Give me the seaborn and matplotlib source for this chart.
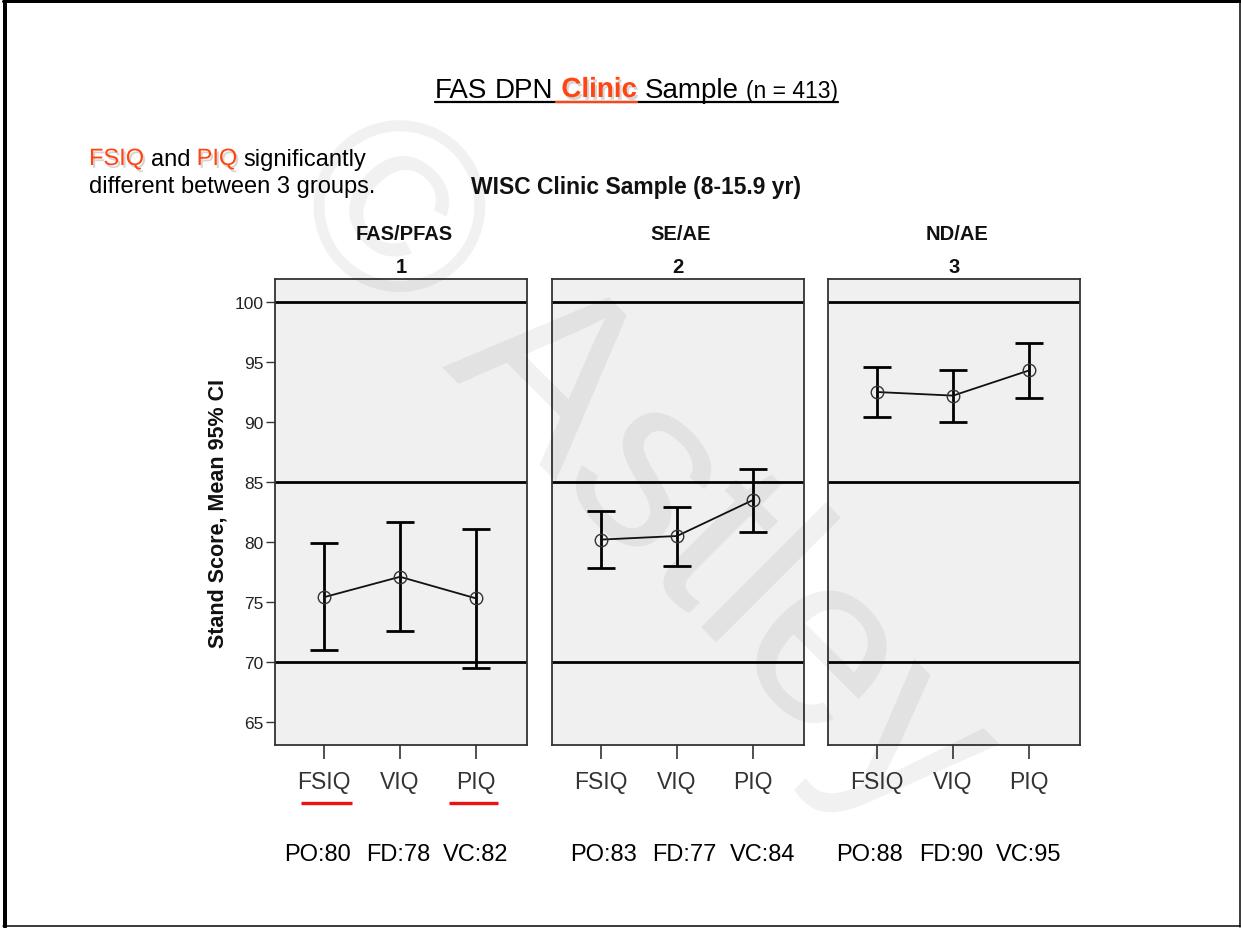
import matplotlib
matplotlib.use("Agg")
import matplotlib.pyplot as plt
import matplotlib.patheffects as pe
from matplotlib.lines import Line2D
import numpy as np
import pandas as pd
import seaborn as sns

# ---- data -------------------------------------------------------------
measures = ["FSIQ", "VIQ", "PIQ"]
group_names = ["FAS/PFAS", "SE/AE", "ND/AE"]
group_ids = ["1", "2", "3"]

fas_mean = [75.4, 77.1, 75.3]
fas_lo = [71.0, 72.6, 69.5]
fas_hi = [79.9, 81.7, 81.1]

se_mean = [80.2, 80.5, 83.5]
se_lo = [77.8, 78.0, 80.8]
se_hi = [82.6, 82.9, 86.1]

nd_mean = [92.5, 92.2, 94.3]
nd_lo = [90.4, 90.0, 92.0]
nd_hi = [94.6, 94.3, 96.6]

po_scores = [80, 83, 88]
fd_scores = [78, 77, 90]
vc_scores = [82, 84, 95]

ref_lines = [70, 85, 100]
y_ticks = [65, 70, 75, 80, 85, 90, 95, 100]

rows = []
for g, m, lo, hi in zip(group_names,
                        [fas_mean, se_mean, nd_mean],
                        [fas_lo, se_lo, nd_lo],
                        [fas_hi, se_hi, nd_hi]):
    for i, meas in enumerate(measures):
        rows.append(dict(group=g, measure=meas, pos=i,
                         mean=m[i], lo=lo[i], hi=hi[i]))
df = pd.DataFrame(rows)

# ---- style ------------------------------------------------------------
sns.set_theme(style="white")
plt.rcParams["font.family"] = ["Liberation Sans", "DejaVu Sans"]

W, H = 1241, 929
fig = plt.figure(figsize=(W / 100, H / 100), dpi=100)
fig.patch.set_facecolor("white")


def fx(px):
    return px / W


def fy(py):
    return 1 - py / H


# ---- panels -----------------------------------------------------------
panel_left = [275, 552, 828]
panel_w = 252
panel_top, panel_bot = 280, 746
ORANGE = "#ff4512"

axes = []
for k, g in enumerate(group_names):
    ax = fig.add_axes([fx(panel_left[k]), fy(panel_bot),
                       fx(panel_w), (panel_bot - panel_top) / H])
    axes.append(ax)
    ax.set_facecolor("#f0f0f0")
    sub = df[df["group"] == g]

    for v in ref_lines:
        ax.axhline(v, color="black", lw=2.0, zorder=2)

    ax.errorbar(sub["pos"], sub["mean"],
                yerr=[sub["mean"] - sub["lo"], sub["hi"] - sub["mean"]],
                fmt="none", ecolor="black", elinewidth=2.0,
                capsize=10, capthick=2.0, zorder=3)
    sns.lineplot(data=sub, x="pos", y="mean", ax=ax, color="#111111",
                 lw=1.3, marker="o", markersize=9,
                 markerfacecolor="none", markeredgecolor="#333333",
                 markeredgewidth=1.0, zorder=4, legend=False)

    ax.set_xlim(-0.645, 2.67)
    ax.set_ylim(63.08, 101.92)
    ax.set_xticks(range(len(measures)))
    ax.set_xticklabels(measures, fontsize=16.5, color="#333333")
    ax.tick_params(axis="x", length=10, width=1.2, color="#333333",
                   pad=8, bottom=True)
    if k == 0:
        ax.set_yticks(y_ticks)
        ax.set_yticklabels([str(t) for t in y_ticks], fontsize=12.5,
                           color="#222222")
        ax.tick_params(axis="y", length=6.5, width=1.0, color="#333333",
                       pad=2, left=True)
    else:
        ax.set_yticks(y_ticks)
        ax.tick_params(axis="y", left=False, labelleft=False)
    ax.set_xlabel("")
    ax.set_ylabel("")
    for s in ax.spines.values():
        s.set_visible(True)
        s.set_color("#333333")
        s.set_linewidth(1.3)

    cx = panel_left[k] + panel_w / 2
    fig.text(fx(cx + 3), fy(240), g, ha="center", va="baseline",
             fontsize=14.5, fontweight="bold", color="#111111")
    fig.text(fx(cx), fy(273), group_ids[k], ha="center", va="baseline",
             fontsize=14.5, fontweight="bold", color="#111111")

axes[0].set_ylabel("Stand Score, Mean 95% CI", fontsize=15.5,
                   fontweight="bold", color="#111111", labelpad=4)

# index scores under each panel
idx_centers = [[317, 398, 476], [604, 684, 763], [870, 951, 1029]]
for k in range(3):
    labels = [f"PO:{po_scores[k]}", f"FD:{fd_scores[k]}", f"VC:{vc_scores[k]}"]
    for lab, cx in zip(labels, idx_centers[k]):
        fig.text(fx(cx), fy(861), lab, ha="center", va="baseline",
                 fontsize=17, color="black")

# red underlines under the significant measures
for x0, x1 in [(301, 352), (449, 498)]:
    fig.add_artist(Line2D([fx(x0), fx(x1)], [fy(804), fy(804)],
                          color="#ee1111", lw=2.4, solid_capstyle="butt"))

# ---- headings ---------------------------------------------------------
renderer = fig.canvas.get_renderer()


def text_run(x_px, y_px, pieces):
    """Lay out text pieces left to right on one baseline; return spans."""
    spans = []
    x = x_px
    for txt, kw in pieces:
        if txt == " ":
            x += kw["fontsize"] * 100 / 72 * 0.278
            continue
        t = fig.text(fx(x), fy(y_px), txt, ha="left", va="baseline", **kw)
        bb = t.get_window_extent(renderer)
        spans.append((x, x + bb.width))
        x += bb.width
    return spans


shadow = [pe.withSimplePatchShadow(offset=(1.5, -2), shadow_rgbFace="#888888",
                                   alpha=0.35)]
T = 20
spans = text_run(435, 98, [
    ("FAS", dict(fontsize=T, color="black")), (" ", dict(fontsize=T)),
    ("DPN", dict(fontsize=T, color="black")), (" ", dict(fontsize=T)),
    ("Clinic", dict(fontsize=T, color=ORANGE, fontweight="bold",
                    path_effects=shadow)), (" ", dict(fontsize=T)),
    ("Sample", dict(fontsize=T, color="black")), (" ", dict(fontsize=T)),
    ("(n = 413)", dict(fontsize=16.5, color="black")),
])
fig.add_artist(Line2D([fx(spans[0][0]), fx(spans[-1][1])], [fy(103), fy(103)],
                      color="black", lw=1.6))
fig.add_artist(Line2D([fx(spans[1][1] + 2), fx(spans[2][1])], [fy(103), fy(103)],
                      color=ORANGE, lw=1.6))

A = 17
text_run(89, 166, [
    ("FSIQ", dict(fontsize=A, color=ORANGE, path_effects=shadow)),
    (" ", dict(fontsize=A)),
    ("and", dict(fontsize=A, color="black")), (" ", dict(fontsize=A)),
    ("PIQ", dict(fontsize=A, color=ORANGE, path_effects=shadow)),
    (" ", dict(fontsize=A)),
    ("significantly", dict(fontsize=A, color="black")),
])
fig.text(fx(89), fy(193), "different between 3 groups.", ha="left",
         va="baseline", fontsize=A, color="black")

fig.text(fx(636), fy(194), "WISC Clinic Sample (8-15.9 yr)", ha="center",
         va="baseline", fontsize=16.5, fontweight="bold", color="#111111")

# ---- watermark --------------------------------------------------------
fig.text(fx(637), fy(474), "\u00a9 Astley", ha="center", va="center",
         rotation=-45, rotation_mode="anchor", fontsize=175,
         color="black", alpha=0.06, zorder=50)

# ---- slide frame ------------------------------------------------------
for xs, ys, lw in [((5, 5), (1, 928), 4), ((3, 1240), (2, 2), 3),
                   ((1239.5, 1239.5), (1, 928), 1.5),
                   ((3, 1240), (927, 927), 1.5)]:
    fig.add_artist(Line2D([fx(xs[0]), fx(xs[1])], [fy(ys[0]), fy(ys[1])],
                          color="black", lw=lw * 0.72))

fig.savefig("out.png", dpi=100, facecolor="white")
